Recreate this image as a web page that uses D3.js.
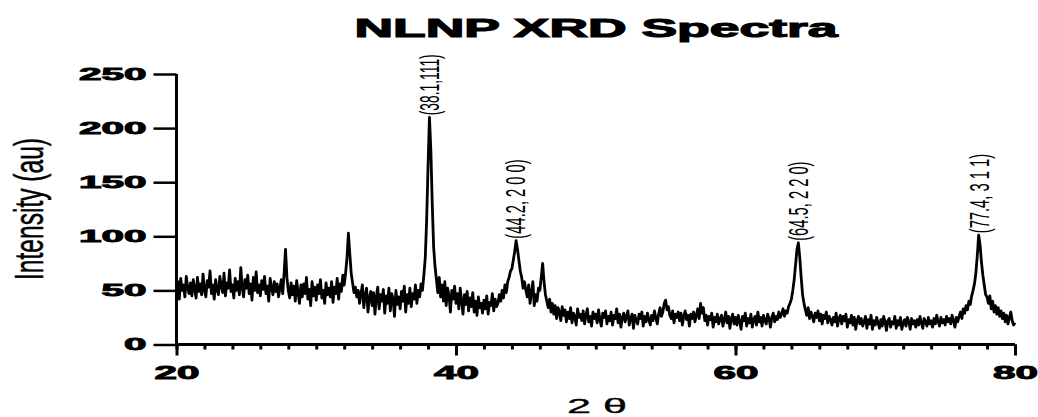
<!DOCTYPE html>
<html>
<head>
<meta charset="utf-8">
<script src="https://cdn.jsdelivr.net/npm/d3@7"></script>
<style>
  body { margin: 0; background: #fff; }
  text { fill: #000; }
</style>
</head>
<body>
<svg id="chart" width="1038" height="417"></svg>
<script>
// XRD scan, 20..80 deg, one value every 0.1 deg (one row = one degree)
const startAngle = 20;
const stepAngle = 0.1;
const intensity = [
  48,58,42,61,50,55,44,63,52,47,   // 20
  57,45,60,51,43,62,49,56,46,65,   // 21
  50,44,59,53,68,47,55,42,60,51,   // 22
  46,63,54,48,66,45,57,52,69,49,   // 23
  55,43,61,50,58,46,71,53,44,60,   // 24
  52,64,47,56,41,62,50,67,48,55,   // 25
  45,59,51,63,47,54,40,61,53,46,   // 26
  58,49,56,44,52,60,47,66,88,62,   // 27
  50,43,57,46,54,40,59,48,38,55,   // 28
  44,56,47,62,42,51,36,58,45,53,   // 29
  41,55,47,60,43,50,38,57,46,52,   // 30
  44,58,39,53,47,61,42,56,49,64,   // 31
  55,66,80,103,84,66,57,48,53,44,  // 32
  50,38,47,55,34,45,52,30,43,49,   // 33
  36,48,28,44,53,33,46,40,51,29,   // 34
  45,38,52,31,47,42,26,50,37,44,   // 35
  33,49,40,54,30,46,38,52,35,47,   // 36
  42,55,38,50,44,56,50,64,80,115,  // 37
  165,210,180,130,90,72,60,48,62,44, // 38
  55,40,58,36,52,45,30,50,42,54,   // 39
  38,47,33,52,40,28,46,37,49,31,   // 40
  43,35,48,30,40,27,44,34,38,29,   // 41
  41,33,45,28,39,36,47,31,42,35,   // 42
  38,46,40,50,43,55,48,58,62,68,   // 43
  70,78,86,96,88,78,68,62,52,58,   // 44
  50,44,55,38,48,58,36,46,40,52,   // 45
  50,62,75,58,46,40,34,42,30,38,   // 46
  28,36,24,34,30,22,35,27,32,21,   // 47
  30,24,34,20,29,26,18,33,25,28,   // 48
  22,31,19,27,33,21,26,17,30,24,   // 49
  28,20,32,23,17,29,25,31,19,26,   // 50
  22,30,18,27,24,33,20,28,16,25,   // 51
  29,21,26,31,18,24,28,15,27,22,   // 52
  19,28,24,30,17,26,21,29,23,18,   // 53
  27,22,31,25,19,28,34,26,30,38,   // 54
  41,32,35,27,24,31,20,28,25,30,   // 55
  22,29,18,26,31,23,27,17,28,24,   // 56
  30,21,27,33,24,38,29,34,22,27,   // 57
  18,26,23,29,16,25,21,28,19,24,   // 58
  27,17,23,30,20,26,15,24,28,19,   // 59
  25,18,27,21,14,26,22,29,17,24,   // 60
  20,28,16,23,26,18,30,21,25,17,   // 61
  27,22,19,28,24,16,25,29,21,26,   // 62
  23,30,25,28,33,26,31,29,35,38,   // 63
  42,50,60,74,88,94,80,62,46,38,   // 64
  32,27,34,24,30,26,21,29,25,31,   // 65
  22,28,19,27,24,30,20,26,23,18,   // 66
  25,21,29,17,24,27,19,26,22,28,   // 67
  16,23,20,27,18,25,14,22,26,19,   // 68
  24,17,21,26,15,23,19,27,14,22,   // 69
  18,25,20,15,23,17,26,21,13,22,   // 70
  24,16,21,19,26,15,22,18,25,14,   // 71
  20,23,17,25,21,14,24,19,22,16,   // 72
  23,18,26,20,15,24,21,17,25,19,   // 73
  22,16,24,19,27,21,17,25,20,23,   // 74
  18,26,21,24,19,27,22,16,25,21,   // 75
  26,30,24,33,29,36,32,40,37,45,   // 76
  50,56,66,82,101,92,76,64,55,46,  // 77
  44,38,45,33,40,30,36,28,34,26,   // 78
  31,24,29,21,27,19,25,30,22,18,   // 79
  20                               // 80
];

const peakAngles = [38.1, 44.2, 64.5, 77.4];
const peakLabels = ["(38.1,111)", "(44.2, 2 0 0)", "(64.5, 2 2 0)", "(77.4, 3 1 1)"];

const xMajorTicks = [20, 40, 60, 80];
const xMinorTicks = d3.range(20, 81, 2);
const yTicks = [0, 50, 100, 150, 200, 250];

const chartTitle = "NLNP XRD Spectra";
const xTitle = "2 \u03B8";
const yTitle = "Intensity (au)";

const svg = d3.select("#chart");

const x = d3.scaleLinear().domain([20, 80]).range([176.5, 1015]);
const y = d3.scaleLinear().domain([0, 250]).range([344.5, 74]);

const points = intensity.map((v, i) => [startAngle + i * stepAngle, v]);

// spectrum line
svg.append("path")
    .datum(points)
    .attr("fill", "none")
    .attr("stroke", "#000")
    .attr("stroke-width", 2.8)
    .attr("stroke-linejoin", "round")
    .attr("d", d3.line().x(d => x(d[0])).y(d => y(d[1])));

// x axis : minor ticks then major ticks with labels
svg.append("g")
    .attr("transform", "translate(0,344.5)")
    .call(d3.axisBottom(x).tickValues(xMinorTicks).tickSize(5).tickSizeOuter(0).tickFormat(""))
    .call(g => g.select(".domain").remove());

const xAxis = svg.append("g")
    .attr("transform", "translate(0,344.5)")
    .call(d3.axisBottom(x).tickValues(xMajorTicks).tickSize(11).tickSizeOuter(0));

xAxis.select(".domain").attr("stroke-width", 3).attr("d", "M176.5,0H1015");
svg.selectAll("g.tick line").attr("stroke", "#000").attr("stroke-width", 3);

xAxis.selectAll("text")
    .attr("y", 34).attr("dy", 0)
    .style("font-family", "'Liberation Sans', Arial, sans-serif")
    .style("font-weight", "bold")
    .style("font-size", "18px")
    .attr("stroke", "#000").attr("stroke-width", 0.9)
    .attr("textLength", d => String(d).length * 22.5)
    .attr("lengthAdjust", "spacingAndGlyphs");

// y axis
const yAxis = svg.append("g")
    .attr("transform", "translate(176.5,0)")
    .call(d3.axisLeft(y).tickValues(yTicks).tickSize(23).tickSizeOuter(0).tickPadding(7));

yAxis.select(".domain").attr("stroke-width", 3).attr("d", "M0,74V344.5");
yAxis.selectAll("line").attr("stroke-width", 2.5);
yAxis.selectAll("text")
    .style("font-family", "'Liberation Sans', Arial, sans-serif")
    .style("font-weight", "bold")
    .style("font-size", "17px")
    .attr("stroke", "#000").attr("stroke-width", 0.9)
    .attr("textLength", d => String(d).length * 22.5)
    .attr("lengthAdjust", "spacingAndGlyphs");

// peak labels, rotated, sitting on top of each peak
const peakTop = a => d3.max(points.filter(p => Math.abs(p[0] - a) < 0.35), p => p[1]);

svg.append("g").selectAll("text")
    .data(peakAngles)
    .enter()
    .append("text")
    .attr("transform", d => "translate(" + (x(d) + 10) + "," + (y(peakTop(d)) - 2) + ") rotate(-90)")
    .style("font-family", "'Liberation Sans Narrow', 'Liberation Sans', Arial, sans-serif")
    .style("font-size", "27px")
    .attr("textLength", (d, i) => peakLabels[i].length * 6.1)
    .attr("lengthAdjust", "spacingAndGlyphs")
    .text((d, i) => peakLabels[i]);

// titles
svg.append("text")
    .attr("x", 596).attr("y", 37)
    .attr("text-anchor", "middle")
    .style("font-family", "'Liberation Sans', Arial, sans-serif")
    .style("font-weight", "bold")
    .style("font-size", "25px")
    .attr("stroke", "#000").attr("stroke-width", 1.1)
    .attr("textLength", 483)
    .attr("lengthAdjust", "spacingAndGlyphs")
    .text(chartTitle);

svg.append("text")
    .attr("x", 597).attr("y", 413)
    .attr("text-anchor", "middle")
    .style("font-family", "'Liberation Sans', Arial, sans-serif")
    .style("font-size", "20px")
    .attr("stroke", "#000").attr("stroke-width", 0.3)
    .attr("textLength", 60)
    .attr("lengthAdjust", "spacingAndGlyphs")
    .text(xTitle);

svg.append("text")
    .attr("transform", "translate(43,209) rotate(-90)")
    .attr("text-anchor", "middle")
    .style("font-family", "'Liberation Sans Narrow', 'Liberation Sans', Arial, sans-serif")
    .style("font-size", "40px")
    .attr("stroke", "#000").attr("stroke-width", 0.5)
    .attr("textLength", 142)
    .attr("lengthAdjust", "spacingAndGlyphs")
    .text(yTitle);
</script>
</body>
</html>
